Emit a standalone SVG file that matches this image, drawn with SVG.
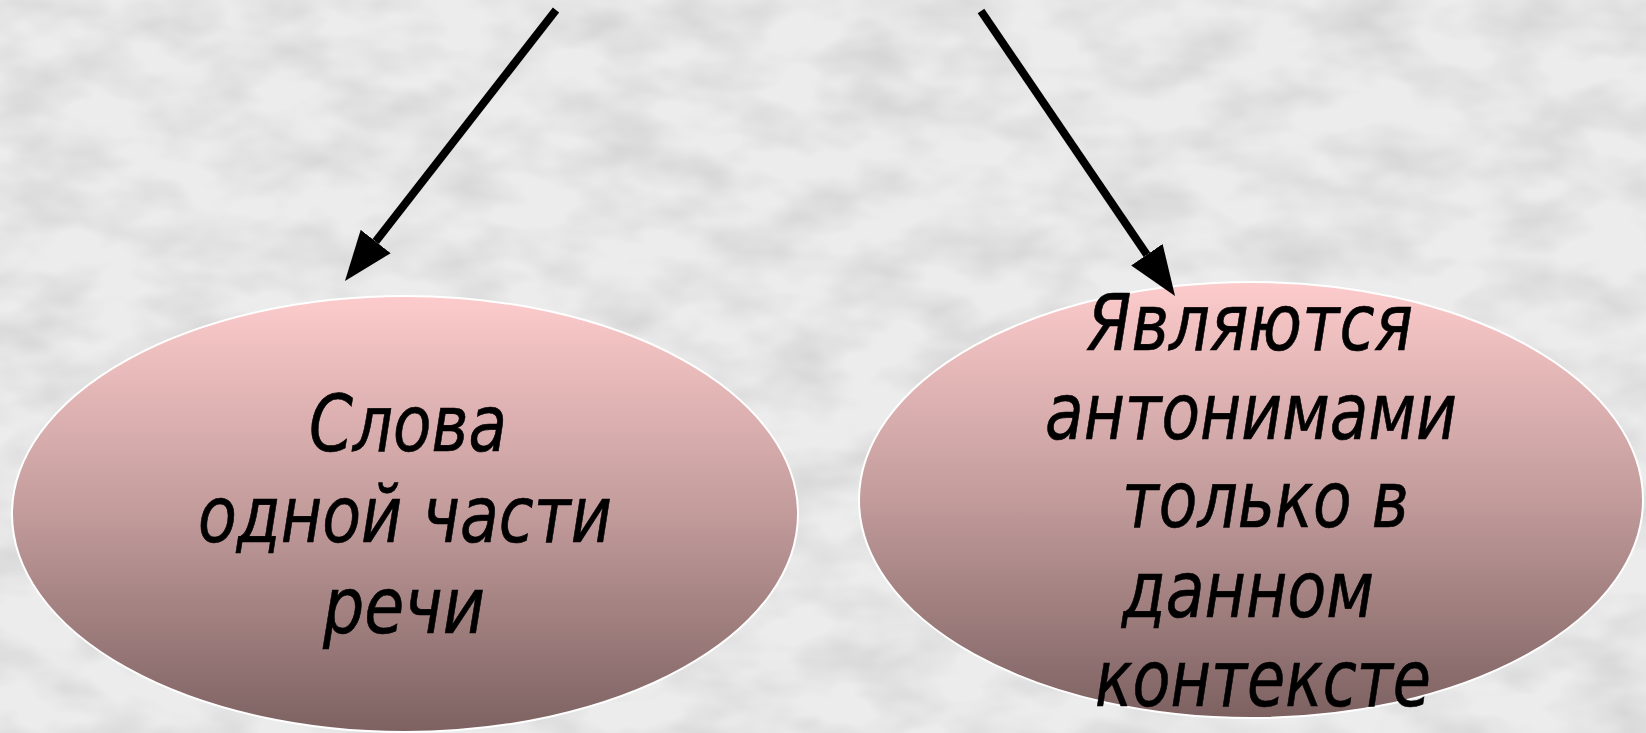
<svg xmlns="http://www.w3.org/2000/svg" width="1646" height="733" viewBox="0 0 1646 733">
  <style>
    .node { stroke: #ffffff; stroke-width: 2; }
    .label { font-family: "DejaVu Sans", "Verdana", sans-serif; font-style: italic; font-size: 79px; fill: #000000; stroke: #000000; stroke-width: 0.7; }
    .conn { stroke: #000000; stroke-width: 8; fill: none; stroke-linecap: butt; }
  </style>
  <defs>
    <linearGradient id="fillGrad" x1="0" y1="0" x2="0" y2="1">
      <stop offset="0" stop-color="#fdcbcb"/>
      <stop offset="0.5" stop-color="#c29b9b"/>
      <stop offset="1" stop-color="#7d6161"/>
    </linearGradient>
    <filter id="marble" x="0" y="0" width="100%" height="100%">
      <feTurbulence type="fractalNoise" baseFrequency="0.012 0.022" numOctaves="3" seed="7" result="n"/>
      <feColorMatrix in="n" type="matrix" values="0 0 0 0 0.55  0 0 0 0 0.55  0 0 0 0 0.55  1.1 0 0 0 -0.4"/>
    </filter>
    <marker id="head" viewBox="0 -20 52 40" markerWidth="52" markerHeight="40" refX="0" refY="0" orient="auto" markerUnits="userSpaceOnUse">
      <path d="M0,-19 L50,0 L0,19 Z" fill="#000000"/>
    </marker>
  </defs>

  <rect width="1646" height="733" fill="#ececec"/>
  <rect width="1646" height="733" filter="url(#marble)"/>

  <g id="node-left">
    <ellipse class="node" cx="405" cy="514" rx="393" ry="218" fill="url(#fillGrad)"/>
    <text class="label" x="309" y="451" textLength="198" lengthAdjust="spacingAndGlyphs">Слова</text>
    <text class="label" x="198" y="542" textLength="414" lengthAdjust="spacingAndGlyphs">одной части</text>
    <text class="label" x="323" y="633" textLength="162" lengthAdjust="spacingAndGlyphs">речи</text>
  </g>

  <g id="node-right">
    <ellipse class="node" cx="1251" cy="500" rx="392" ry="218" fill="url(#fillGrad)"/>
    <text class="label" x="1087" y="350" textLength="326" lengthAdjust="spacingAndGlyphs">Являются</text>
    <text class="label" x="1045" y="439" textLength="412" lengthAdjust="spacingAndGlyphs">антонимами</text>
    <text class="label" x="1122" y="527" textLength="287" lengthAdjust="spacingAndGlyphs">только в</text>
    <text class="label" x="1122" y="617" textLength="252" lengthAdjust="spacingAndGlyphs">данном</text>
    <text class="label" x="1095" y="706" textLength="336" lengthAdjust="spacingAndGlyphs">контексте</text>
  </g>

  <g id="connectors">
    <line class="conn" x1="556" y1="10" x2="375.7" y2="241.5" marker-end="url(#head)"/>
    <line class="conn" x1="981" y1="11" x2="1146.9" y2="254.7" marker-end="url(#head)"/>
  </g>
</svg>
